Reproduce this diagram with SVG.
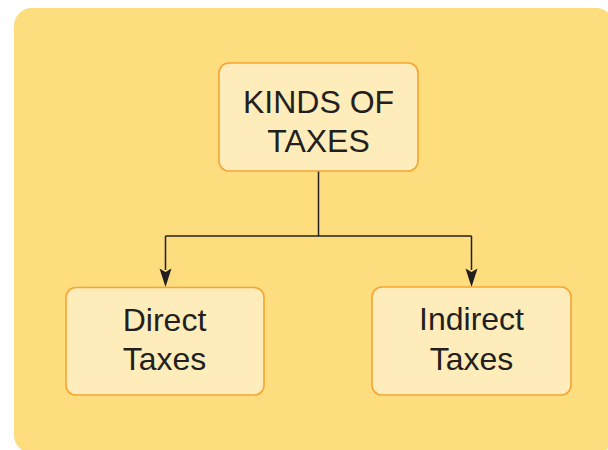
<svg xmlns="http://www.w3.org/2000/svg" width="608" height="450" viewBox="0 0 608 450">
  <style>
    .node rect { fill: #FEEDBB; stroke: #F7A431; stroke-width: 1.6; }
    .node text { font-family: "Liberation Sans", Arial, sans-serif; font-size: 32px; fill: #231F20; text-anchor: middle; }
    .conn { fill: none; stroke: #231F20; stroke-width: 1.5; }
    .head { fill: #231F20; stroke: none; }
  </style>
  <rect x="14" y="8" width="600" height="445" rx="18" ry="18" fill="#FDDD7E"/>
  <g id="connectors">
    <path class="conn" d="M318.5,171 V236"/>
    <path class="conn" d="M165.5,236 H471.5"/>
    <path class="conn" d="M165.5,236 V270"/>
    <path class="conn" d="M471.5,236 V270"/>
    <path class="head" d="M165.5,272 L159.5,268.5 L165.5,287 L171.5,268.5 Z"/>
    <path class="head" d="M471.5,272 L465.5,268.5 L471.5,287 L477.5,268.5 Z"/>
  </g>
  <g id="node-kinds" class="node">
    <rect x="219" y="63" width="199" height="108" rx="10" ry="10"/>
    <text x="318.5" y="113.3">KINDS OF</text>
    <text x="318.5" y="152.3">TAXES</text>
  </g>
  <g id="node-direct" class="node">
    <rect x="66" y="287.5" width="198" height="107.5" rx="10" ry="10"/>
    <text x="164.5" y="330.7">Direct</text>
    <text x="164.5" y="370">Taxes</text>
  </g>
  <g id="node-indirect" class="node">
    <rect x="372" y="287" width="199" height="108" rx="10" ry="10"/>
    <text x="471.5" y="330.3">Indirect</text>
    <text x="471.5" y="369.5">Taxes</text>
  </g>
</svg>
